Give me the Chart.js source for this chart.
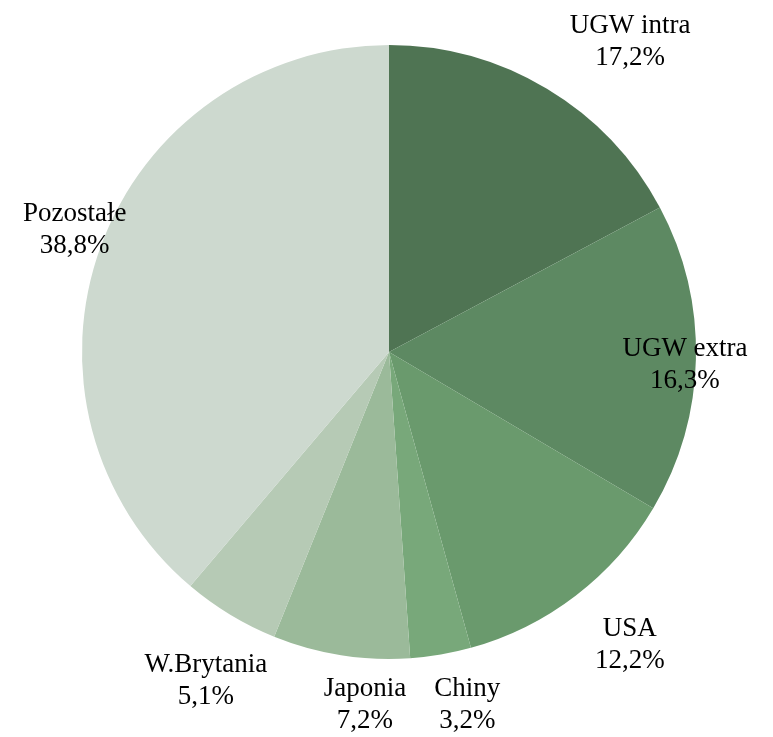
<!DOCTYPE html>
<html>
<head>
<meta charset="utf-8">
<script src="https://cdn.jsdelivr.net/npm/chart.js@4.4.1/dist/chart.umd.min.js"></script>
<style>
  html, body { margin: 0; padding: 0; background: #ffffff; }
  #wrap { width: 773px; height: 737px; }
</style>
</head>
<body>
<div id="wrap"><canvas id="myChart"></canvas></div>
<script>
// data
var categories = ['UGW intra', 'UGW extra', 'USA', 'Chiny', 'Japonia', 'W.Brytania', 'Pozostałe'];
var shares = [17.2, 16.3, 12.2, 3.2, 7.2, 5.1, 38.8];

// styles
var sliceColors = ['#4f7453', '#5d8962', '#6a9a6d', '#78a87a', '#9bba9a', '#b6cab5', '#cdd9cf'];
// label placement: distance (x outer radius) and angle nudge in degrees
var labelDist = [1.28, 0.965, 1.235, 1.176, 1.153, 1.225, 1.098];
var labelNudge = [6.9, 1.2, -2, -2.8, -5.1, -2, 1];

var labelPlugin = {
    id: 'sliceLabels',
    afterDatasetsDraw: function (chart) {
        var ctx = chart.ctx;
        var meta = chart.getDatasetMeta(0);
        ctx.save();
        ctx.font = '27px "Liberation Serif", serif';
        ctx.fillStyle = '#000000';
        ctx.textAlign = 'center';
        ctx.textBaseline = 'middle';
        meta.data.forEach(function (arc, i) {
            var p = arc.getProps(['x', 'y', 'startAngle', 'endAngle', 'outerRadius'], true);
            var mid = (p.startAngle + p.endAngle) / 2 + labelNudge[i] * Math.PI / 180;
            var r = p.outerRadius * labelDist[i];
            var cx = p.x + Math.cos(mid) * r;
            var cy = p.y + Math.sin(mid) * r;
            var pct = shares[i].toFixed(1).replace('.', ',') + '%';
            ctx.fillText(categories[i], cx, cy - 16);
            ctx.fillText(pct, cx, cy + 16);
        });
        ctx.restore();
    }
};

var ctx = document.getElementById('myChart').getContext('2d');
var myChart = new Chart(ctx, {
    type: 'pie',
    data: {
        labels: categories,
        datasets: [{
            data: shares,
            backgroundColor: sliceColors,
            borderWidth: 0
        }]
    },
    options: {
        responsive: true,
        maintainAspectRatio: false,
        animation: false,
        layout: {
            padding: { left: 82, right: 77, top: 45, bottom: 78 }
        },
        plugins: {
            legend: { display: false },
            tooltip: { enabled: false }
        }
    },
    plugins: [labelPlugin]
});
</script>
</body>
</html>
